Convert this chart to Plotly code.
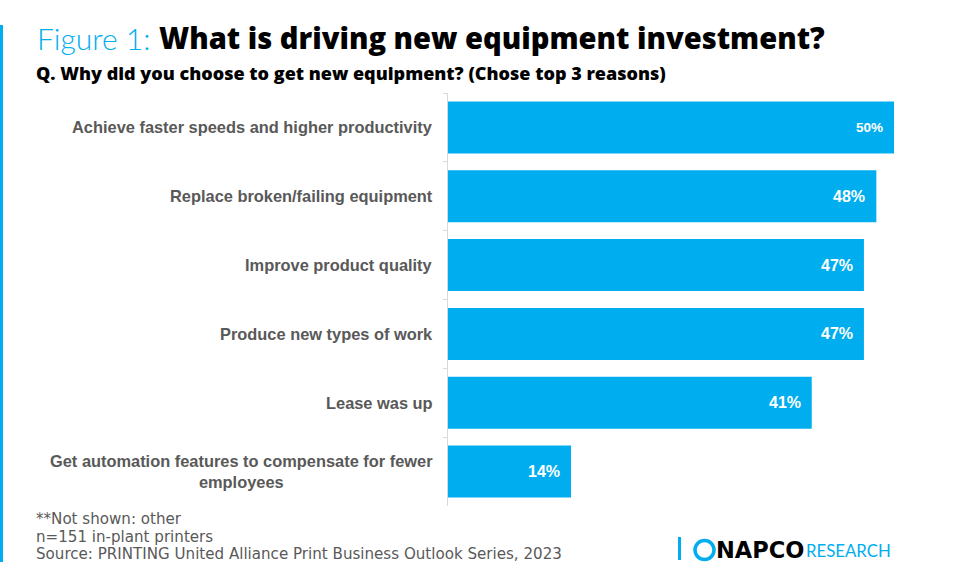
import plotly.graph_objects as go

categories = [
    "Achieve faster speeds and higher productivity",
    "Replace broken/failing equipment",
    "Improve product quality",
    "Produce new types of work",
    "Lease was up",
    "Get automation features to compensate for fewer<br>employees",
]
values = [50.4, 48.4, 47.0, 47.0, 41.1, 13.9]
value_labels = ["50%", "48%", "47%", "47%", "41%", "14%"]
label_sizes = [13.5, 16, 16, 16, 16, 16]

W, H = 960, 584
ML, MR, MT, MB = 448, 28, 93, 78
PW, PH = W - ML - MR, H - MT - MB
BLUE = "#00AEEF"
GRAY = "#595959"


def px(x):
    return (x - ML) / PW


def py(y):
    return (H - MB - y) / PH


fig = go.Figure(
    go.Bar(
        x=values,
        y=categories,
        orientation="h",
        marker=dict(color=BLUE, line=dict(width=0)),
        hoverinfo="skip",
    )
)

ann = []
# category labels
for c in categories:
    ann.append(dict(x=0, xref="paper", y=c, yref="y", xanchor="right", xshift=-13,
                    text=c, showarrow=False, align="center",
                    font=dict(family="Liberation Sans, Arial", size=16.4, color=GRAY, weight=700)))
# value labels
for c, v, t, s in zip(categories, values, value_labels, label_sizes):
    ann.append(dict(x=v, xref="x", y=c, yref="y", xanchor="right", xshift=-9,
                    text=t, showarrow=False,
                    font=dict(family="Liberation Sans, Arial", size=s, color="white", weight=700)))

# title
ann.append(dict(x=px(35), y=py(38), xref="paper", yref="paper", xanchor="left", yanchor="middle",
                text="Figure 1:", showarrow=False,
                font=dict(family="Lato", size=30, color=BLUE, weight=300)))
ann.append(dict(x=px(157), y=py(38), xref="paper", yref="paper", xanchor="left", yanchor="middle",
                text="What is driving new equipment investment?", showarrow=False,
                font=dict(family="Open Sans", size=29.1, color="#000000", weight=800)))
ann.append(dict(x=px(34), y=py(73), xref="paper", yref="paper", xanchor="left", yanchor="middle",
                text="Q. Why did you choose to get new equipment? (Chose top 3 reasons)", showarrow=False,
                font=dict(family="Open Sans", size=18, color="#000000", weight=800)))

# footnotes
foot = ["**Not shown: other", "n=151 in-plant printers",
        "Source: PRINTING United Alliance Print Business Outlook Series, 2023"]
for i, t in enumerate(foot):
    ann.append(dict(x=px(34), y=py(519 + i * 17.5), xref="paper", yref="paper", xanchor="left",
                    yanchor="middle", text=t, showarrow=False,
                    font=dict(family="DejaVu Sans", size=15.1, color=GRAY)))

# logo text
ann.append(dict(x=px(714), y=py(550), xref="paper", yref="paper", xanchor="left", yanchor="middle",
                text="NAPCO", showarrow=False,
                font=dict(family="DejaVu Sans", size=22.5, color="#000000", weight=700)))
ann.append(dict(x=px(804), y=py(550), xref="paper", yref="paper", xanchor="left", yanchor="middle",
                text="RESEARCH", showarrow=False,
                font=dict(family="Lato", size=16.8, color=BLUE, weight=400)))

shapes = [
    dict(type="rect", xref="paper", yref="paper", x0=px(0), x1=px(3), y0=py(25), y1=py(562),
         fillcolor=BLUE, line=dict(width=0)),
    dict(type="rect", xref="paper", yref="paper", x0=px(678), x1=px(681), y0=py(537), y1=py(560),
         fillcolor=BLUE, line=dict(width=0)),
    dict(type="circle", xref="paper", yref="paper", x0=px(695), x1=px(714), y0=py(540.5), y1=py(559.5),
         fillcolor="rgba(0,0,0,0)", line=dict(color=BLUE, width=3.5)),
]

fig.update_layout(
    width=W, height=H,
    margin=dict(l=ML, r=MR, t=MT, b=MB, pad=0),
    paper_bgcolor="white", plot_bgcolor="white",
    bargap=0.244,
    showlegend=False,
    annotations=ann,
    shapes=shapes,
    xaxis=dict(range=[0, PW / 8.85], visible=False, fixedrange=True),
    yaxis=dict(autorange="reversed", showticklabels=False, showline=True, linecolor="#d9d9d9",
               linewidth=1, ticks="outside", ticklen=4, tickcolor="#d9d9d9", tickson="boundaries",
               showgrid=False, zeroline=False, fixedrange=True),
)

fig.write_html("out.html")
